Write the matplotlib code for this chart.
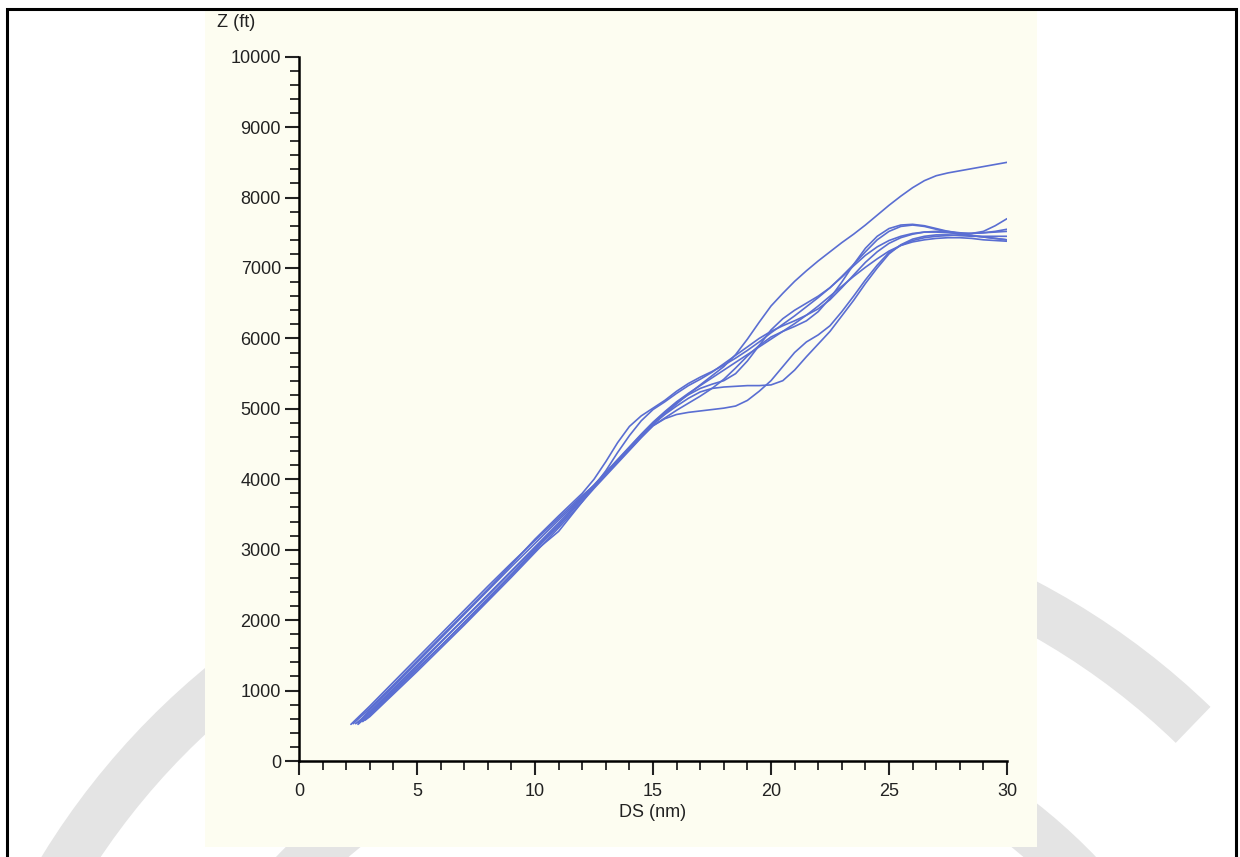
import numpy as np
import matplotlib
matplotlib.use("Agg")
import matplotlib.pyplot as plt
from matplotlib.patches import Rectangle, Wedge

plt.rcParams['font.family'] = ['Liberation Sans', 'DejaVu Sans']

# distance along track (nm) shared by every profile after its own start point
ds = [3, 4, 5, 6, 7, 8, 9, 10, 11, 12,
      12.5, 13, 13.5, 14, 14.5, 15, 15.5, 16, 16.5, 17, 17.5, 18, 18.5, 19, 19.5,
      20, 20.5, 21, 21.5, 22, 22.5, 23, 23.5, 24, 24.5, 25, 25.5, 26, 26.5, 27,
      27.5, 28, 28.5, 29, 29.5, 30]

# first point of every profile
start_ds = [2.2, 2.3, 2.5, 2.6, 2.8, 2.7, 2.5, 2.4]
start_z = [520, 530, 520, 560, 580, 560, 540, 530]

# altitude profiles (ft)
z_top = [780, 1120, 1460, 1800, 2140, 2480, 2810, 3130, 3450, 3770,
         3910, 4080, 4250, 4430, 4610, 4780, 4930, 5070, 5210, 5340, 5470, 5600, 5770, 5990, 6230,
         6460, 6640, 6810, 6960, 7100, 7230, 7360, 7480, 7610, 7750, 7890, 8020, 8140, 8240, 8310,
         8350, 8380, 8410, 8440, 8470, 8500]
z_a = [750, 1080, 1420, 1760, 2100, 2440, 2790, 3150, 3480, 3800,
       4000, 4250, 4520, 4750, 4900, 5010, 5120, 5250, 5360, 5450, 5530, 5620, 5720, 5830, 5950,
       6080, 6200, 6320, 6450, 6580, 6720, 6880, 7050, 7230, 7400, 7520, 7590, 7610, 7590, 7550,
       7510, 7480, 7460, 7440, 7420, 7400]
z_b = [670, 990, 1310, 1630, 1960, 2290, 2640, 2980, 3260, 3680,
       3900, 4120, 4380, 4620, 4830, 4990, 5100, 5220, 5330, 5420, 5520, 5640, 5760, 5880, 6000,
       6100, 6180, 6250, 6330, 6420, 6550, 6720, 6900, 7080, 7230, 7350, 7430, 7480, 7510, 7520,
       7520, 7500, 7490, 7500, 7520, 7550]
z_c = [700, 1030, 1360, 1690, 2020, 2350, 2690, 3020, 3350, 3720,
       3900, 4080, 4250, 4420, 4600, 4760, 4870, 4980, 5080, 5180, 5290, 5420, 5580, 5750, 5900,
       6020, 6100, 6170, 6250, 6380, 6570, 6800, 7050, 7280, 7450, 7560, 7610, 7620, 7600, 7560,
       7520, 7490, 7460, 7440, 7420, 7400]
z_d = [630, 950, 1270, 1600, 1930, 2270, 2610, 2960, 3310, 3680,
       3870, 4050, 4230, 4410, 4590, 4760, 4860, 4920, 4950, 4970, 4990, 5010, 5040, 5120, 5250,
       5400, 5600, 5800, 5950, 6050, 6180, 6380, 6600, 6830, 7040, 7220, 7320, 7390, 7430, 7450,
       7460, 7470, 7490, 7520, 7600, 7700]
z_e = [650, 970, 1300, 1630, 1970, 2310, 2650, 3000, 3340, 3710,
       3890, 4070, 4250, 4430, 4610, 4780, 4920, 5040, 5150, 5240, 5290, 5310, 5320, 5330, 5330,
       5340, 5400, 5550, 5740, 5920, 6100, 6320, 6540, 6780, 7000, 7200, 7330, 7410, 7450, 7470,
       7470, 7460, 7450, 7450, 7450, 7450]
z_f = [730, 1060, 1400, 1740, 2080, 2420, 2760, 3090, 3420, 3750,
       3920, 4100, 4280, 4460, 4640, 4810, 4960, 5100, 5220, 5330, 5440, 5550, 5660, 5770, 5880,
       5990, 6100, 6210, 6330, 6460, 6600, 6740, 6880, 7010, 7130, 7240, 7320, 7370, 7400, 7420,
       7430, 7430, 7420, 7400, 7390, 7380]
z_g = [690, 1010, 1340, 1680, 2020, 2360, 2700, 3040, 3380, 3740,
       3910, 4090, 4270, 4450, 4630, 4800, 4950, 5090, 5200, 5290, 5350, 5400, 5500, 5680, 5900,
       6120, 6280, 6400, 6500, 6600, 6720, 6870, 7030, 7180, 7300, 7390, 7450, 7490, 7510, 7510,
       7500, 7490, 7490, 7500, 7510, 7520]
profiles = [z_top, z_a, z_b, z_c, z_d, z_e, z_f, z_g]

xticks = [0, 5, 10, 15, 20, 25, 30]
yticks = [0, 1000, 2000, 3000, 4000, 5000, 6000, 7000, 8000, 9000, 10000]

line_col = '#5a6ed2'
cream = '#fdfdf1'
wm_grey = '#e4e4e4'

fig = plt.figure(figsize=(12.4, 8.57), dpi=100)

# page decoration: watermark rings, scanned sheet, page frame (pixel coords)
bg = fig.add_axes([0, 0, 1, 1], zorder=-1)
bg.set_xlim(0, 1240)
bg.set_ylim(857, 0)
bg.axis('off')
bg.add_patch(Wedge((686, 1250), 755, -150, -46, width=50, color=wm_grey, lw=0))
bg.add_patch(Wedge((686, 1250), 568, -150, -40, width=50, color=wm_grey, lw=0))
bg.add_patch(Rectangle((205, 11), 832, 836, color=cream, lw=0))
bg.plot([7, 7, 1236, 1236], [857, 9, 9, 857], color='black', lw=2.2,
        solid_joinstyle='miter')

ax = fig.add_axes([299 / 1240, 96 / 857, 708 / 1240, 704.3 / 857])
ax.set_facecolor('none')
for xs0, zs0, zs in zip(start_ds, start_z, profiles):
    ax.plot([xs0] + ds, [zs0] + zs, color=line_col, lw=1.2, solid_capstyle='round')

ax.set_xlim(0, 30)
ax.set_ylim(0, 10000)
ax.spines['top'].set_visible(False)
ax.spines['right'].set_visible(False)
for s in ['left', 'bottom']:
    ax.spines[s].set_linewidth(1.8)
ax.set_xticks(xticks)
ax.set_yticks(yticks)
ax.set_xticks(np.arange(0, 31, 1), minor=True)
ax.set_yticks(np.arange(0, 10001, 200), minor=True)
ax.tick_params(which='major', direction='out', length=10, width=1.5,
               labelsize=13, colors='#222222')
ax.tick_params(which='minor', direction='out', length=6.5, width=1.3, colors='#222222')
ax.tick_params(axis='x', which='major', pad=6)
ax.tick_params(axis='y', which='major', pad=3)

ax.set_xlabel('DS (nm)', fontsize=13, color='#222222', labelpad=3)
ax.text(-0.116, 1.048, 'Z (ft)', transform=ax.transAxes, fontsize=13,
        color='#222222', ha='left', va='center')

fig.savefig('out.png', dpi=100)
